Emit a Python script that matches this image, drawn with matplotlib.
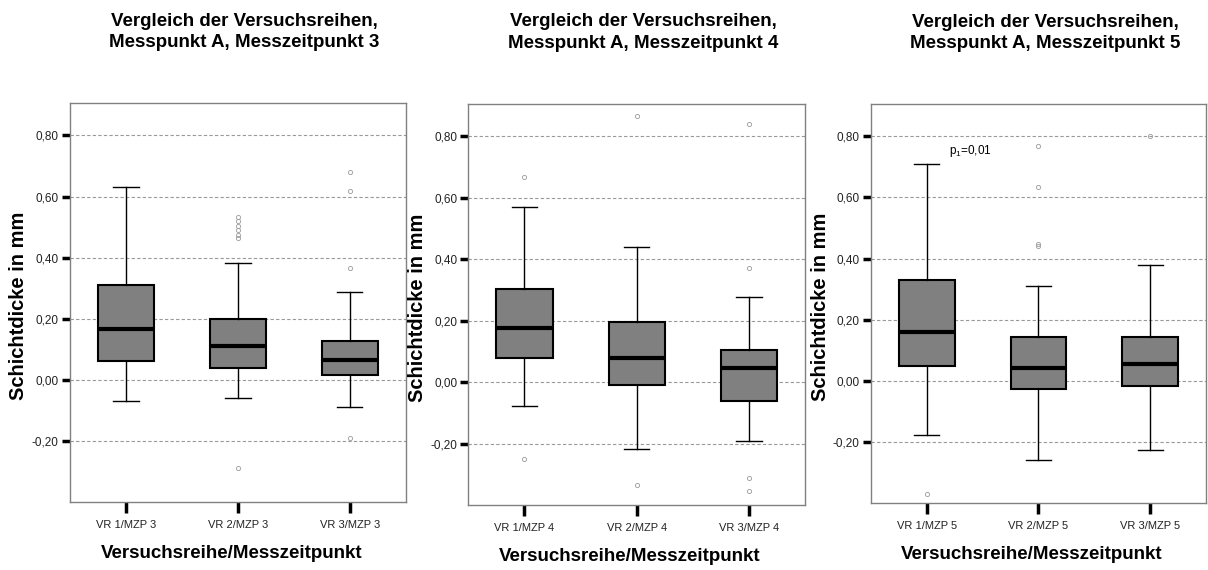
import matplotlib
matplotlib.use("Agg")
import matplotlib.pyplot as plt
from matplotlib.ticker import FuncFormatter

plt.rcParams['font.family'] = ['Liberation Sans', 'DejaVu Sans']
plt.rcParams['mathtext.default'] = 'regular'

# values (one group per panel: VR 1, VR 2, VR 3)
mzp = [3, 4, 5]
groups = ["VR 1", "VR 2", "VR 3"]

q1_3 = [0.063, 0.039, 0.016]
med_3 = [0.166, 0.112, 0.065]
q3_3 = [0.311, 0.199, 0.129]
lo_3 = [-0.068, -0.060, -0.087]
hi_3 = [0.631, 0.384, 0.288]
out_3 = [[], [0.465, 0.475, 0.49, 0.505, 0.52, 0.533, -0.287], [0.680, 0.618, 0.365, -0.189]]

q1_4 = [0.077, -0.009, -0.063]
med_4 = [0.176, 0.079, 0.047]
q3_4 = [0.302, 0.195, 0.103]
lo_4 = [-0.077, -0.218, -0.191]
hi_4 = [0.570, 0.439, 0.276]
out_4 = [[0.667, -0.249], [0.866, -0.334], [0.840, 0.371, -0.312, -0.356]]

q1_5 = [0.050, -0.027, -0.017]
med_5 = [0.160, 0.042, 0.055]
q3_5 = [0.329, 0.143, 0.143]
lo_5 = [-0.177, -0.257, -0.226]
hi_5 = [0.709, 0.310, 0.379]
out_5 = [[-0.369], [0.769, 0.633, 0.448, 0.440], [0.801]]

panels = [
    (q1_3, med_3, q3_3, lo_3, hi_3, out_3),
    (q1_4, med_4, q3_4, lo_4, hi_4, out_4),
    (q1_5, med_5, q3_5, lo_5, hi_5, out_5),
]

# axes rectangles in figure fractions
rects = [
    [0.0579, 0.1188, 0.2781, 0.700],
    [0.3877, 0.1140, 0.2787, 0.7035],
    [0.7210, 0.1170, 0.2773, 0.7005],
]

fig = plt.figure(figsize=(12.08, 5.70), dpi=100)

for k, (q1, med, q3, lo, hi, out) in enumerate(panels):
    ax = fig.add_axes(rects[k])
    stats = []
    for i in range(3):
        stats.append(dict(q1=q1[i], med=med[i], q3=q3[i],
                          whislo=lo[i], whishi=hi[i], fliers=out[i]))
    ax.bxp(stats, positions=[1, 2, 3], widths=0.5, capwidths=0.225,
           patch_artist=True, showfliers=True,
           boxprops=dict(facecolor='#808080', edgecolor='black', linewidth=1.5),
           medianprops=dict(color='black', linewidth=3),
           whiskerprops=dict(color='black', linewidth=1),
           capprops=dict(color='black', linewidth=1),
           flierprops=dict(marker='o', markersize=3, markerfacecolor='none',
                           markeredgecolor='#9a9a9a', markeredgewidth=0.6))

    ax.set_xlim(0.5, 3.5)
    ax.set_ylim(-0.40, 0.905)
    ax.set_yticks([-0.2, 0.0, 0.2, 0.4, 0.6, 0.8])
    ax.yaxis.set_major_formatter(FuncFormatter(lambda v, p: f"{v:.2f}".replace('.', ',')))
    ax.set_xticks([1, 2, 3])
    ax.set_xticklabels([f"{g}/MZP {mzp[k]}" for g in groups], fontsize=8, color='#222222')
    ax.tick_params(axis='y', length=6, width=2.5, labelsize=8.5, colors='black', pad=2)
    ax.tick_params(axis='x', length=8, width=2.5, pad=5)
    for lab in ax.get_yticklabels():
        lab.set_color('#222222')

    ax.grid(axis='y', linestyle=(0, (3, 2)), color='#999999', linewidth=0.8)
    ax.set_axisbelow(True)
    for sp in ax.spines.values():
        sp.set_color('#808080')
        sp.set_linewidth(1)

    ax.set_ylabel("Schichtdicke in mm", fontsize=14.5, fontweight='bold', va='center')
    ax.yaxis.set_label_coords(-0.152, 0.492)
    ax.set_xlabel("Versuchsreihe/Messzeitpunkt", fontsize=13.5, fontweight='bold', va='center')
    ax.xaxis.set_label_coords(0.48, -0.128)

    ax.text(0.52, 1.13, f"Vergleich der Versuchsreihen,\nMesspunkt A, Messzeitpunkt {mzp[k]}",
            transform=ax.transAxes, ha='center', va='bottom', fontsize=13.5,
            fontweight='bold', linespacing=1.35)

    if k == 2:
        ax.text(1.2, 0.752, "p$_1$=0,01", fontsize=8.5, ha='left', va='center')

fig.savefig("out.png", dpi=100)
